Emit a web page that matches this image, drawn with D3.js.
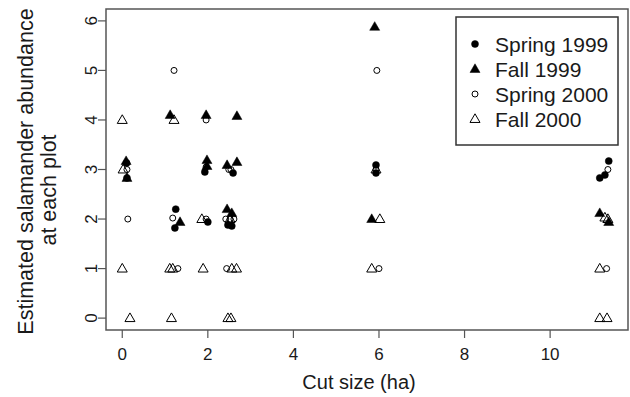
<!DOCTYPE html>
<html>
<head>
<meta charset="utf-8">
<script src="https://cdn.jsdelivr.net/npm/d3@7"></script>
<style>
  body { margin: 0; background: #fff; }
  text { font-family: "Liberation Sans", Arial, sans-serif; fill: #1a1a1a; }
</style>
</head>
<body>
<div id="chart"></div>
<script>
// Data: [cut size (ha), estimated abundance]
const spring1999 = [
    [0.10, 3.13], [0.11, 2.83],
    [1.25, 2.20], [1.23, 1.82],
    [1.93, 2.95], [2.00, 1.94],
    [2.59, 2.93], [2.47, 1.88], [2.56, 1.86],
    [5.93, 3.09], [5.93, 2.93],
    [11.37, 3.17], [11.16, 2.83], [11.28, 2.89]
];
const fall1999 = [
    [0.09, 3.17], [0.11, 2.83],
    [1.12, 4.10], [1.35, 1.94],
    [1.96, 4.10], [1.98, 3.19], [1.98, 3.07],
    [2.68, 4.08], [2.45, 3.09], [2.68, 3.15], [2.45, 2.20], [2.56, 2.12],
    [5.90, 5.88], [5.83, 2.00],
    [11.16, 2.12], [11.37, 1.94]
];
const spring2000 = [
    [0.11, 3.00], [0.13, 2.00],
    [1.21, 5.00], [1.18, 2.02], [1.30, 1.00],
    [1.96, 4.00], [1.96, 3.05], [1.96, 2.00],
    [2.49, 3.00], [2.54, 3.00], [2.42, 2.00], [2.52, 2.00], [2.61, 2.00], [2.44, 1.00],
    [5.95, 5.00], [5.93, 3.00], [6.00, 1.00],
    [11.35, 3.00], [11.32, 1.00]
];
const fall2000 = [
    [0.00, 4.00], [0.02, 3.00], [0.00, 1.00], [0.18, 0.00],
    [1.21, 4.00], [1.11, 1.00], [1.18, 1.00], [1.15, 0.00],
    [1.86, 2.00], [1.89, 1.00],
    [2.52, 2.00], [2.56, 1.00], [2.67, 1.00], [2.47, 0.00], [2.54, 0.00],
    [5.93, 3.00], [6.02, 2.00], [5.83, 1.00],
    [11.28, 2.03], [11.35, 2.00], [11.16, 1.00], [11.16, 0.00], [11.33, 0.00]
];
const xTicks = [0, 2, 4, 6, 8, 10];
const yTicks = [0, 1, 2, 3, 4, 5, 6];
const legendLabels = ["Spring 1999", "Fall 1999", "Spring 2000", "Fall 2000"];

const width = 630, height = 397;
const plot = { left: 106, right: 628, top: 9, bottom: 330 };

const svg = d3.select("#chart").append("svg")
    .attr("width", width)
    .attr("height", height);

// Scales
const xScale = d3.scaleLinear().domain([-0.38, 11.82]).range([plot.left, plot.right]);
const yScale = d3.scaleLinear().domain([-0.24, 6.24]).range([plot.bottom, plot.top]);

// Marker shapes
const triSide = 10;
const triPath = () => {
    const h = triSide * Math.sqrt(3) / 2;
    return `M0,${-h * 0.6}L${triSide / 2},${h * 0.4}L${-triSide / 2},${h * 0.4}Z`;
};
const series = [
    { name: legendLabels[0], data: spring1999, shape: "circle", filled: true },
    { name: legendLabels[1], data: fall1999, shape: "triangle", filled: true },
    { name: legendLabels[2], data: spring2000, shape: "circle", filled: false },
    { name: legendLabels[3], data: fall2000, shape: "triangle", filled: false }
];

function drawMarker(g, s) {
    if (s.shape === "circle") {
        g.append("circle")
            .attr("r", s.filled ? 3.5 : 3)
            .attr("fill", s.filled ? "#000" : "#fff")
            .attr("fill-opacity", s.filled ? 1 : 0)
            .attr("stroke", "#000")
            .attr("stroke-width", s.filled ? 0.5 : 1);
    } else {
        g.append("path")
            .attr("d", triPath())
            .attr("fill", s.filled ? "#000" : "none")
            .attr("stroke", "#000")
            .attr("stroke-width", s.filled ? 0.5 : 1)
            .attr("stroke-linejoin", "miter");
    }
}

// Points
series.forEach((s, i) => {
    svg.selectAll(".pts" + i)
        .data(s.data)
        .enter()
        .append("g")
        .attr("class", "pts" + i)
        .attr("transform", d => `translate(${xScale(d[0])},${yScale(d[1])})`)
        .each(function () { drawMarker(d3.select(this), s); });
});

// Plot box
svg.append("rect")
    .attr("x", plot.left)
    .attr("y", plot.top)
    .attr("width", plot.right - plot.left)
    .attr("height", plot.bottom - plot.top)
    .attr("fill", "none")
    .attr("stroke", "#555")
    .attr("stroke-width", 1.5);

// X axis
svg.selectAll(".xTick")
    .data(xTicks)
    .enter()
    .append("line")
    .attr("class", "xTick")
    .attr("x1", d => xScale(d))
    .attr("x2", d => xScale(d))
    .attr("y1", plot.bottom)
    .attr("y2", plot.bottom + 8)
    .attr("stroke", "#555")
    .attr("stroke-width", 1.2);

svg.selectAll(".xLabel")
    .data(xTicks)
    .enter()
    .append("text")
    .attr("class", "xLabel")
    .attr("x", d => xScale(d))
    .attr("y", 360)
    .attr("text-anchor", "middle")
    .style("font-size", "17px")
    .text(d => d);

// Y axis
svg.selectAll(".yTick")
    .data(yTicks)
    .enter()
    .append("line")
    .attr("class", "yTick")
    .attr("x1", plot.left - 8)
    .attr("x2", plot.left)
    .attr("y1", d => yScale(d))
    .attr("y2", d => yScale(d))
    .attr("stroke", "#555")
    .attr("stroke-width", 1.2);

svg.selectAll(".yLabel")
    .data(yTicks)
    .enter()
    .append("text")
    .attr("class", "yLabel")
    .attr("transform", d => `translate(97,${yScale(d)}) rotate(-90)`)
    .attr("text-anchor", "middle")
    .style("font-size", "17px")
    .text(d => d);

// Axis titles
svg.append("text")
    .attr("x", 359)
    .attr("y", 389)
    .attr("text-anchor", "middle")
    .style("font-size", "20px")
    .text("Cut size (ha)");

svg.append("text")
    .attr("transform", "translate(33,171.5) rotate(-90)")
    .attr("text-anchor", "middle")
    .style("font-size", "21.5px")
    .text("Estimated salamander abundance");

svg.append("text")
    .attr("transform", "translate(56,190) rotate(-90)")
    .attr("text-anchor", "middle")
    .style("font-size", "21.5px")
    .text("at each plot");

// Legend
const legend = svg.append("g");
legend.append("rect")
    .attr("x", 456)
    .attr("y", 17)
    .attr("width", 162)
    .attr("height", 128)
    .attr("fill", "#fff")
    .attr("stroke", "#333")
    .attr("stroke-width", 1.5);

series.forEach((s, i) => {
    const row = legend.append("g").attr("transform", `translate(475,${44 + i * 25})`);
    drawMarker(row, s);
    row.append("text")
        .attr("x", 20)
        .attr("y", 7.5)
        .style("font-size", "21px")
        .text(s.name);
});
</script>
</body>
</html>
